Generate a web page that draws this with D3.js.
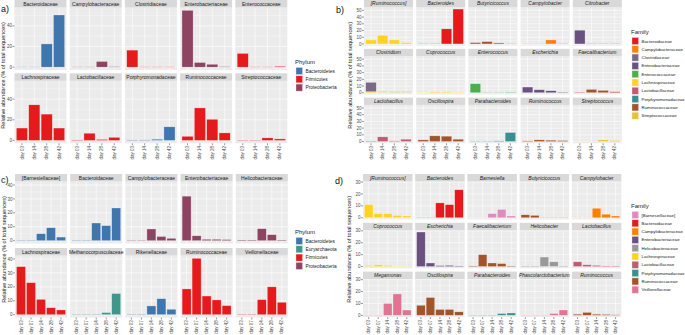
<!DOCTYPE html>
<html><head><meta charset="utf-8">
<script src="https://cdn.jsdelivr.net/npm/d3@7"></script>
<style>body{margin:0;background:#fff} svg{display:block} text{font-family:"Liberation Sans",Arial,sans-serif}</style>
</head><body><svg id="chart" width="685" height="335"></svg>
<script>
// ---------- data ----------
const timeAB = ["day 03","day 14","day 28","day 42"];
const timeCD = ["day 03","day 07","day 14","day 28","day 42"];

const phylumA = ["Bacteroidetes","Firmicutes","Proteobacteria"];
const phylumC = ["Bacteroidetes","Euryarchaeota","Firmicutes","Proteobacteria"];
const familyB = ["Bacteroidaceae","Campylobacteraceae","Clostridiaceae","Enterobacteriaceae","Enterococcaceae","Lachnospiraceae","Lactobacillaceae","Porphyromonadaceae","Ruminococcaceae","Streptococcaceae"];
const familyD = ["[Barnesiellaceae]","Bacteroidaceae","Campylobacteraceae","Enterobacteriaceae","Helicobacteraceae","Lachnospiraceae","Lactobacillaceae","Porphyromonadaceae","Ruminococcaceae","Veillonellaceae"];

const aFacets = ["Bacteroidaceae","Campylobacteraceae","Clostridiaceae","Enterobacteriaceae","Enterococcaceae","Lachnospiraceae","Lactobacillaceae","Porphyromonadaceae","Ruminococcaceae","Streptococcaceae"];
const aPhylum = ["Bacteroidetes","Proteobacteria","Firmicutes","Proteobacteria","Firmicutes","Firmicutes","Firmicutes","Bacteroidetes","Firmicutes","Firmicutes"];
const aValues = [[0.3,0.3,22.5,50.5],[0.3,0.3,5.5,0.5],[16.5,0.3,0.3,0.3],[55,4.5,2.8,0.5],[13.3,0.3,0.3,0.8],
                 [12,34.5,25.5,12],[0.5,7,1,3],[0.5,0.5,1.2,13.2],[4,31.5,20.5,7.3],[0.4,0.4,2.5,1.5]];

const bFacets = ["[Ruminococcus]","Bacteroides","Butyricicoccus","Campylobacter","Citrobacter","Clostridium","Coprococcus","Enterococcus","Escherichia","Faecalibacterium","Lactobacillus","Oscillospira","Parabacteroides","Ruminococcus","Streptococcus"];
const bFamily = ["Lachnospiraceae","Bacteroidaceae","Ruminococcaceae","Campylobacteraceae","Enterobacteriaceae","Clostridiaceae","Lachnospiraceae","Enterococcaceae","Enterobacteriaceae","Ruminococcaceae","Lactobacillaceae","Ruminococcaceae","Porphyromonadaceae","Ruminococcaceae","Streptococcaceae"];
const bValues = [[6,13,6,2],[0.5,0.5,22.5,52],[2,3.5,1.5,0.5],[0.5,0.5,6,0.8],[20.5,0.5,0.5,0.5],
                 [14,0.5,0.5,0.5],[0.8,1.5,1.5,1],[13.5,0.8,0.8,1],[8.5,4.5,3,1],[1,5,3.5,1.5],
                 [0.8,7,1,3.5],[2.5,8.5,8,3.5],[0.5,0.5,1,13.5],[1,2.5,2,1.5],[0.3,0.3,2.5,1.5]];
// extra stacked layer (Clostridium assigned to Lachnospiraceae)
const bStackFacet = "Clostridium";
const bStackFamily = "Lachnospiraceae";
const bStackValues = [1.5,1,0.8,0.8];

const cFacets = ["[Barnesiellaceae]","Bacteroidaceae","Campylobacteraceae","Enterobacteriaceae","Helicobacteraceae","Lachnospiraceae","Methanocorpusculaceae","Rikenellaceae","Ruminococcaceae","Veillonellaceae"];
const cPhylum = ["Bacteroidetes","Bacteroidetes","Proteobacteria","Proteobacteria","Proteobacteria","Firmicutes","Euryarchaeota","Bacteroidetes","Firmicutes","Firmicutes"];
const cValues = [[0.3,0.3,5,9.3,2.6],[0.3,0.3,12.7,10.8,23.5],[0.3,0.3,8.4,3,1.7],[32,3.5,1,1,0.8],[0.5,0.5,8.6,4.3,0.5],
                 [34.5,23,11,5,3.4],[0.3,0.3,0.3,1.5,15.2],[0.3,0.3,6.3,11.5,3.9],[18.5,40.5,13.4,10.6,6.5],[0.3,0.3,10.8,20,8.9]];

const dFacets = ["[Ruminococcus]","Bacteroides","Barnesiella","Butyricicoccus","Campylobacter","Coprococcus","Escherichia","Faecalibacterium","Helicobacter","Lactobacillus","Megamonas","Oscillospira","Parabacteroides","Phascolarctobacterium","Ruminococcus"];
const dFamily = ["Lachnospiraceae","Bacteroidaceae","[Barnesiellaceae]","Ruminococcaceae","Campylobacteraceae","Lachnospiraceae","Enterobacteriaceae","Ruminococcaceae","Helicobacteraceae","Lactobacillaceae","Veillonellaceae","Ruminococcaceae","Porphyromonadaceae","Veillonellaceae","Ruminococcaceae"];
const dValues = [[11,3.5,3.5,2,1.5],[0.3,0.3,12.5,11,23.5],[0.3,0.3,3.5,7,1.5],[2.5,2,0.3,0.3,0.3],[0.3,0.3,8,3,1.5],
                 [1,1.5,1,0.3,0.3],[29,3,0.8,1,0.5],[0.5,10,3,2.5,0.5],[0.5,0.5,8,4,0.5],[4,1.5,1,0.5,0.5],
                 [0.3,0.3,10,18,4.5],[8.5,15,5,5,3],[0.3,0.3,0.3,1.5,2],[0.3,0.3,0.3,1.5,4.5],[1,2.5,1,0.8,0.5]];

const yTicksA = [0,20,40], yTicksB = [0,10,20,30,40,50], yTicksC = [0,10,20,30,40], yTicksD = [0,10,20,30];

const phylumColor = d3.scaleOrdinal().domain(phylumC).range(["#3f76ae","#3f968a","#e41a1c","#8e4363"]);
const familyColor = d3.scaleOrdinal()
  .domain(["[Barnesiellaceae]","Bacteroidaceae","Campylobacteraceae","Clostridiaceae","Enterobacteriaceae","Enterococcaceae","Helicobacteraceae","Lachnospiraceae","Lactobacillaceae","Porphyromonadaceae","Ruminococcaceae","Streptococcaceae","Veillonellaceae"])
  .range(["#de8cbd","#e41a1c","#ff7f00","#7b6a87","#6a5180","#4daf4a","#999999","#ffd320","#c05b72","#3b8f92","#a3542a","#e3c533","#df7592"]);

// ---------- drawing ----------
const svg = d3.select("#chart");

function drawFacets(o){
  const g = svg.append("g");
  const n = o.cats.length;
  const max = d3.max(o.facets, f => d3.max(d3.range(n), i => d3.sum(f.stacks, s => s.values[i])));
  const nRows = Math.ceil(o.facets.length / o.nCols);
  const minor = o.ticks.slice(0,-1).map((t,i)=> (t+o.ticks[i+1])/2);
  minor.push(o.ticks[o.ticks.length-1] + (o.ticks[1]-o.ticks[0])/2);
  o.facets.forEach((f, k) => {
    const col = k % o.nCols, row = Math.floor(k / o.nCols);
    const x0 = o.left + col*o.colStep, x1 = x0 + o.colW;
    const sy = o.top + row*o.rowStep, py0 = sy + o.stripH, py1 = py0 + o.panelH;
    const x = d3.scaleLinear().domain([0.4, n+0.6]).range([x0, x1]);
    const y = d3.scaleLinear().domain([-0.05*max, 1.05*max]).range([py1, py0]);
    g.append("rect").attr("x",x0).attr("y",py0).attr("width",o.colW).attr("height",o.panelH).attr("fill","#ebebeb");
    minor.filter(t => y(t) > py0).forEach(t => g.append("line").attr("x1",x0).attr("x2",x1).attr("y1",y(t)).attr("y2",y(t)).attr("stroke","#fff").attr("stroke-width",0.3));
    o.ticks.forEach(t => g.append("line").attr("x1",x0).attr("x2",x1).attr("y1",y(t)).attr("y2",y(t)).attr("stroke","#fff").attr("stroke-width",0.6));
    d3.range(n).forEach(i => g.append("line").attr("x1",x(i+1)).attr("x2",x(i+1)).attr("y1",py0).attr("y2",py1).attr("stroke","#fff").attr("stroke-width",0.6));
    // bars (stacked)
    const base = new Array(n).fill(0);
    f.stacks.forEach(s => {
      s.values.forEach((v,i) => {
        g.append("rect").attr("x",x(i+1-0.45)).attr("width",x(1.9)-x(1))
          .attr("y",y(base[i]+v)).attr("height",y(base[i])-y(base[i]+v))
          .attr("fill",s.color).attr("stroke","rgba(255,255,255,0.55)").attr("stroke-width",0.5);
        base[i]+=v;
      });
    });
    // strip
    g.append("rect").attr("x",x0).attr("y",sy).attr("width",o.colW).attr("height",o.stripH).attr("fill","#d9d9d9");
    g.append("text").attr("x",(x0+x1)/2).attr("y",sy+o.stripH/2).attr("dy","0.35em").attr("text-anchor","middle")
      .attr("font-size",5).attr("fill","#1a1a1a").attr("font-style",o.italic?"italic":"normal").text(f.name);
    // y axis
    if (col === 0){
      o.ticks.forEach(t => {
        g.append("line").attr("x1",x0-2).attr("x2",x0).attr("y1",y(t)).attr("y2",y(t)).attr("stroke","#333").attr("stroke-width",0.5);
        g.append("text").attr("x",x0-2.6).attr("y",y(t)).attr("dy","0.35em").attr("text-anchor","end").attr("font-size",4.5).attr("fill","#4d4d4d").text(t);
      });
    }
    // x axis on bottom row
    if (row === nRows-1){
      o.cats.forEach((c,i) => {
        g.append("line").attr("x1",x(i+1)).attr("x2",x(i+1)).attr("y1",py1).attr("y2",py1+2).attr("stroke","#333").attr("stroke-width",0.5);
        g.append("text").attr("transform",`translate(${x(i+1)},${py1+2.8}) rotate(-90)`).attr("dy","0.35em")
          .attr("text-anchor","end").attr("font-size",4.5).attr("fill","#4d4d4d").text(c);
      });
    }
  });
  // axis title
  const yTop = o.top + o.stripH, yBot = o.top + (nRows-1)*o.rowStep + o.stripH + o.panelH;
  g.append("text").attr("transform",`translate(${o.titleX},${(yTop+yBot)/2}) rotate(-90)`).attr("dy","0.35em")
    .attr("text-anchor","middle").attr("font-size",5.6).attr("fill","#1a1a1a").text("Relative abundance (% of total sequences)");
  // panel label
  g.append("text").attr("x",o.labelX).attr("y",o.labelY).attr("font-family","Liberation Serif, serif").attr("font-size",9).attr("fill","#111").text(o.label);
}

function drawLegend(title, items, color, x, y, fs){
  const g = svg.append("g");
  g.append("text").attr("x",x).attr("y",y).attr("font-size",6).attr("fill","#1a1a1a").text(title);
  items.forEach((it,i) => {
    const ky = y + 3 + i*8.3;
    g.append("rect").attr("x",x+0.5).attr("y",ky).attr("width",7.5).attr("height",8).attr("fill","#f2f2f2");
    g.append("rect").attr("x",x+1).attr("y",ky+0.5).attr("width",6.5).attr("height",7).attr("fill",color(it)).attr("stroke","rgba(255,255,255,0.6)").attr("stroke-width",0.5);
    g.append("text").attr("x",x+10.5).attr("y",ky+4).attr("dy","0.35em").attr("font-size",fs).attr("fill","#1a1a1a").text(it);
  });
}

// panel a
drawFacets({
  facets: aFacets.map((nm,i)=>({name:nm, stacks:[{values:aValues[i], color:phylumColor(aPhylum[i])}]})),
  cats: timeAB, ticks: yTicksA, nCols:5, left:14.5, colStep:55.2, colW:52, top:0, stripH:7.5, panelH:62.5, rowStep:73.3,
  titleX:3.5, label:"a)", labelX:1, labelY:12, italic:false
});
drawLegend("Phylum", phylumA, phylumColor, 295, 64, 4.8);

// panel b
drawFacets({
  facets: bFacets.map((nm,i)=>{
    const stacks = [];
    if (nm === bStackFacet) stacks.push({values:bStackValues, color:familyColor(bStackFamily)});
    stacks.push({values:bValues[i], color:familyColor(bFamily[i])});
    return {name:nm, stacks};
  }),
  cats: timeAB, ticks: yTicksB, nCols:5, left:364, colStep:52.2, colW:49, top:0, stripH:7.3, panelH:38.4, rowStep:48.8,
  titleX:350, label:"b)", labelX:336, labelY:13, italic:true
});
drawLegend("Family", familyB, familyColor, 631, 34, 4.4);

// panel c
drawFacets({
  facets: cFacets.map((nm,i)=>({name:nm, stacks:[{values:cValues[i], color:phylumColor(cPhylum[i])}]})),
  cats: timeCD, ticks: yTicksC, nCols:5, left:15, colStep:55.2, colW:52, top:174, stripH:7.5, panelH:62, rowStep:74,
  titleX:4, label:"c)", labelX:1, labelY:183, italic:false
});
drawLegend("Phylum", phylumC, phylumColor, 295, 234, 4.8);

// panel d
drawFacets({
  facets: dFacets.map((nm,i)=>({name:nm, stacks:[{values:dValues[i], color:familyColor(dFamily[i])}]})),
  cats: timeCD, ticks: yTicksD, nCols:5, left:363, colStep:52.2, colW:49.5, top:174, stripH:7.5, panelH:38, rowStep:48.8,
  titleX:349, label:"d)", labelX:335, labelY:184, italic:true
});
drawLegend("Family", familyD, familyColor, 631, 208, 4.4);
</script></body></html>
